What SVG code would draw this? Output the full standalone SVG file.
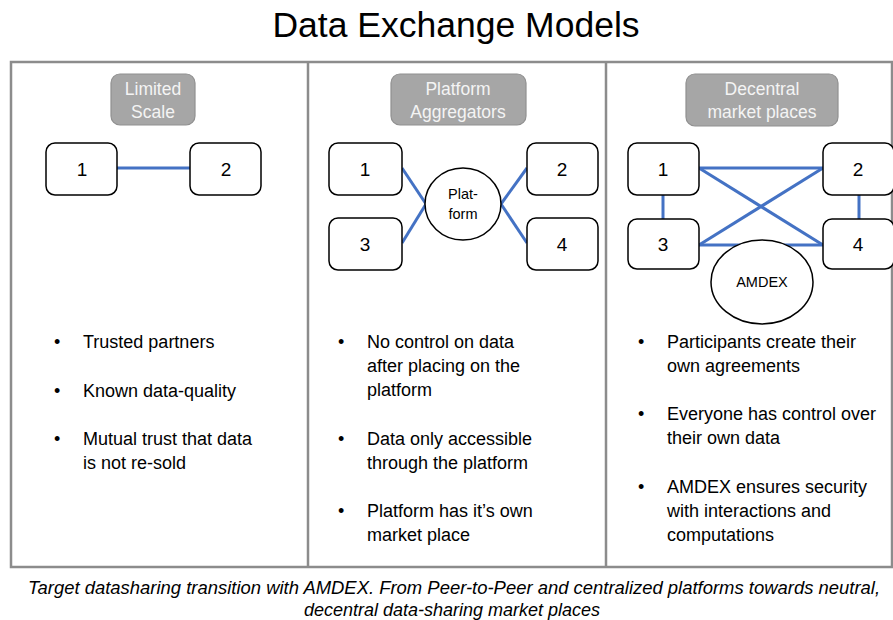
<svg xmlns="http://www.w3.org/2000/svg" width="893" height="620" viewBox="0 0 893 620">
<style>
text{font-family:"Liberation Sans",Arial,sans-serif;fill:#000}
.title{font-size:35.5px}
.frame{fill:none;stroke:#8c8c8c;stroke-width:2.5}
.lbl rect{fill:#a6a6a6;stroke:#909090;stroke-width:1.2}
.lbl text{fill:#f4f4f4;font-size:17.5px;text-anchor:middle}
.node rect{fill:#fff;stroke:#000;stroke-width:1.5}
.node text{font-size:19px;text-anchor:middle}
.hub ellipse{fill:#fff;stroke:#000;stroke-width:1.5}
.hub text{font-size:14.5px;text-anchor:middle}
.conn line{stroke:#4472c4;stroke-width:3}
.bul text{font-size:18px}
.cap{font-size:18px;font-style:italic;text-anchor:middle}
</style>
<rect width="893" height="620" fill="#fff"/>
<text class="title" x="456" y="37" text-anchor="middle">Data Exchange Models</text>
<g id="frame">
<rect class="frame" x="11" y="62" width="881" height="505"/>
<line class="frame" x1="308" y1="62" x2="308" y2="567"/>
<line class="frame" x1="606" y1="62" x2="606" y2="567"/>
</g>
<g id="labels" class="lbl">
<g id="lbl1"><rect x="111" y="74" width="84" height="51" rx="9"/><text x="153" y="95">Limited</text><text x="153" y="118">Scale</text></g>
<g id="lbl2"><rect x="391" y="74" width="135" height="51" rx="9"/><text x="458" y="95">Platform</text><text x="458" y="118">Aggregators</text></g>
<g id="lbl3"><rect x="686" y="74" width="152" height="52" rx="9"/><text x="762" y="95">Decentral</text><text x="762" y="118">market places</text></g>
</g>
<g id="connectors" class="conn">
<line x1="117" y1="168" x2="190" y2="168"/>
<line x1="402" y1="168" x2="426" y2="204"/>
<line x1="402" y1="243" x2="426" y2="204"/>
<line x1="501" y1="204" x2="527" y2="168"/>
<line x1="501" y1="204" x2="527" y2="243"/>
<line x1="699" y1="168" x2="823" y2="168"/>
<line x1="699" y1="245" x2="823" y2="245"/>
<line x1="699" y1="168" x2="823" y2="245"/>
<line x1="699" y1="245" x2="823" y2="168"/>
<line x1="663" y1="195" x2="663" y2="219"/>
<line x1="859" y1="195" x2="859" y2="219"/>
</g>
<g id="p1n1" class="node"><rect x="46" y="143" width="71" height="52" rx="9"/><text x="82" y="176">1</text></g>
<g id="p1n2" class="node"><rect x="190" y="143" width="71" height="52" rx="9"/><text x="226" y="176">2</text></g>
<g id="p2n1" class="node"><rect x="329" y="143" width="73" height="52" rx="9"/><text x="365" y="176">1</text></g>
<g id="p2n2" class="node"><rect x="527" y="143" width="71" height="52" rx="9"/><text x="562" y="176">2</text></g>
<g id="p2n3" class="node"><rect x="329" y="218" width="73" height="52" rx="9"/><text x="365" y="251">3</text></g>
<g id="p2n4" class="node"><rect x="527" y="218" width="71" height="52" rx="9"/><text x="562" y="251">4</text></g>
<g id="platform" class="hub"><ellipse cx="463" cy="204" rx="38" ry="36"/><text x="463" y="199">Plat-</text><text x="463" y="219">form</text></g>
<g id="p3n1" class="node"><rect x="628" y="143" width="71" height="52" rx="9"/><text x="663" y="176">1</text></g>
<g id="p3n2" class="node"><rect x="823" y="143" width="71" height="52" rx="9"/><text x="858" y="176">2</text></g>
<g id="p3n3" class="node"><rect x="628" y="219" width="71" height="50" rx="9"/><text x="663" y="251">3</text></g>
<g id="p3n4" class="node"><rect x="823" y="219" width="71" height="50" rx="9"/><text x="858" y="251">4</text></g>
<g id="amdex" class="hub"><ellipse cx="762" cy="282" rx="51" ry="42"/><text x="762" y="287">AMDEX</text></g>
<g id="bullets1" class="bul">
<text x="54" y="348">•</text><text x="83" y="348">Trusted partners</text>
<text x="54" y="397">•</text><text x="83" y="397">Known data-quality</text>
<text x="54" y="445">•</text><text x="83" y="445">Mutual trust that data</text><text x="83" y="469">is not re-sold</text>
</g>
<g id="bullets2" class="bul">
<text x="338" y="348">•</text><text x="367" y="348">No control on data</text><text x="367" y="372">after placing on the</text><text x="367" y="396">platform</text>
<text x="338" y="445">•</text><text x="367" y="445">Data only accessible</text><text x="367" y="469">through the platform</text>
<text x="338" y="517">•</text><text x="367" y="517">Platform has it’s own</text><text x="367" y="541">market place</text>
</g>
<g id="bullets3" class="bul">
<text x="638" y="348">•</text><text x="667" y="348">Participants create their</text><text x="667" y="372">own agreements</text>
<text x="638" y="420">•</text><text x="667" y="420">Everyone has control over</text><text x="667" y="444">their own data</text>
<text x="638" y="493">•</text><text x="667" y="493">AMDEX ensures security</text><text x="667" y="517">with interactions and</text><text x="667" y="541">computations</text>
</g>
<text class="cap" x="454" y="594" textLength="852" lengthAdjust="spacingAndGlyphs">Target datasharing transition with AMDEX. From Peer-to-Peer and centralized platforms towards neutral,</text>
<text class="cap" x="452" y="616">decentral data-sharing market places</text>
</svg>
